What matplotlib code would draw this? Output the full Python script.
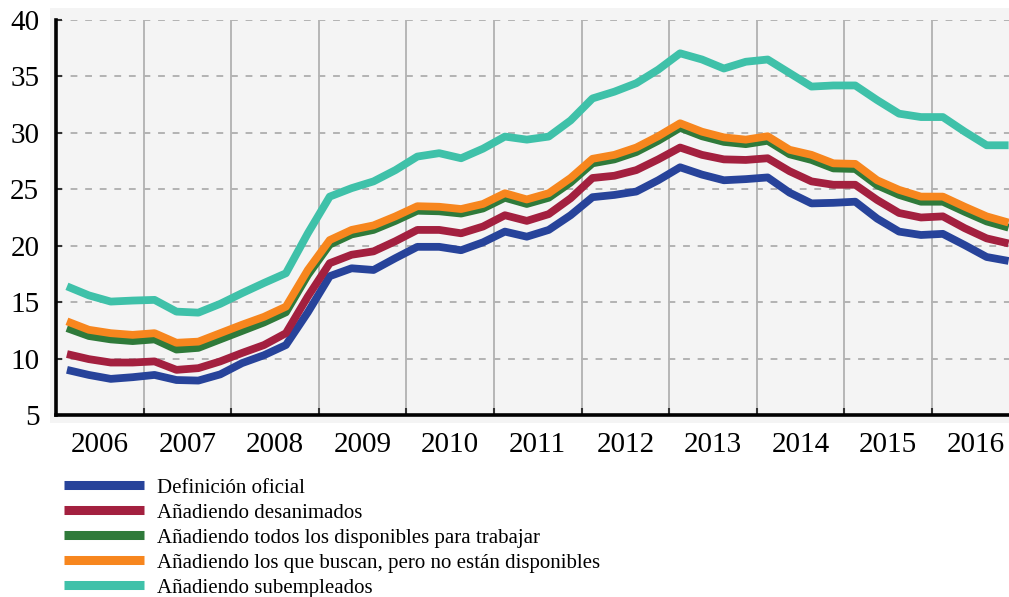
import numpy as np
import matplotlib
matplotlib.use("Agg")
import matplotlib.pyplot as plt
from matplotlib.lines import Line2D
from matplotlib.patches import Rectangle

# ---------------- data ----------------
years = list(range(2006, 2017))
quarters_per_year = 4
year_labels = [str(y) for y in years]
y_ticks = [5, 10, 15, 20, 25, 30, 35, 40]

# quarterly values 2006Q1 .. 2016Q4 (%)
oficial = [9.0, 8.55, 8.2, 8.35,
           8.55, 8.1, 8.05, 8.6,
           9.6, 10.3, 11.2, 14.1,
           17.3, 18.0, 17.85, 18.9,
           19.9, 19.9, 19.6, 20.3,
           21.25, 20.8, 21.4, 22.7,
           24.3, 24.5, 24.8, 25.8,
           26.95, 26.3, 25.8, 25.9,
           26.05, 24.7, 23.75, 23.8,
           23.9, 22.4, 21.25, 20.95,
           21.05, 20.05, 19.0, 18.65]

desanimados = [10.4, 9.95, 9.65, 9.65,
               9.75, 9.0, 9.15, 9.75,
               10.5, 11.2, 12.25, 15.5,
               18.45, 19.2, 19.5, 20.4,
               21.4, 21.4, 21.1, 21.7,
               22.7, 22.2, 22.8, 24.2,
               26.0, 26.2, 26.7, 27.65,
               28.7, 28.05, 27.65, 27.6,
               27.75, 26.6, 25.7, 25.4,
               25.4, 24.05, 22.9, 22.5,
               22.6, 21.55, 20.65, 20.2]

disponibles = [12.7, 12.0, 11.7, 11.55,
               11.7, 10.8, 10.95, 11.7,
               12.45, 13.2, 14.1, 17.4,
               20.1, 21.0, 21.4, 22.2,
               23.1, 23.05, 22.85, 23.3,
               24.25, 23.7, 24.25, 25.6,
               27.3, 27.65, 28.3, 29.3,
               30.45, 29.7, 29.2, 29.0,
               29.3, 28.1, 27.6, 26.85,
               26.8, 25.35, 24.5, 23.9,
               23.9, 23.0, 22.15, 21.6]

buscan = [13.3, 12.55, 12.25, 12.1,
          12.25, 11.4, 11.5, 12.25,
          13.0, 13.7, 14.6, 17.85,
          20.5, 21.4, 21.8, 22.6,
          23.5, 23.45, 23.25, 23.7,
          24.65, 24.1, 24.65, 26.0,
          27.7, 28.05, 28.7, 29.7,
          30.85, 30.1, 29.6, 29.4,
          29.7, 28.5, 28.05, 27.3,
          27.25, 25.8, 24.95, 24.35,
          24.35, 23.45, 22.6, 22.05]

subempleados = [16.4, 15.6, 15.05, 15.14,
                15.2, 14.16, 14.07, 14.85,
                15.8, 16.7, 17.56, 21.1,
                24.35, 25.1, 25.7, 26.7,
                27.9, 28.2, 27.75, 28.6,
                29.67, 29.4, 29.67, 31.1,
                33.05, 33.65, 34.4, 35.6,
                37.05, 36.5, 35.7, 36.3,
                36.5, 35.3, 34.1, 34.2,
                34.2, 32.9, 31.7, 31.4,
                31.4, 30.1, 28.9, 28.9]

series_labels = ["Definición oficial",
                 "Añadiendo desanimados",
                 "Añadiendo todos los disponibles para trabajar",
                 "Añadiendo los que buscan, pero no están disponibles",
                 "Añadiendo subempleados"]
colors = ["#27439a", "#a3203f", "#2f7a3a", "#f7861e", "#3fc1a9"]

# ---------------- figure ----------------
plt.rcParams['font.family'] = ['Liberation Serif', 'DejaVu Serif']

W, H = 1009, 597
fig = plt.figure(figsize=(W / 100, H / 100), dpi=100)
fig.patch.set_facecolor('white')
bg = Rectangle((50 / W, 1 - 423 / H), (W - 50) / W, (423 - 8) / H,
               transform=fig.transFigure, facecolor='#f4f4f4',
               edgecolor='none', zorder=-5)
fig.patches.append(bg)

ax = fig.add_axes([56 / W, 1 - 415 / H, (W - 56) / W, (415 - 20) / H])
ax.set_zorder(1)
ax.set_facecolor('#f4f4f4')

all_series = [oficial, desanimados, disponibles, buscan, subempleados]
n = len(oficial)
x = years[0] + (np.arange(n) + 0.5) / quarters_per_year

for vals, col in zip(all_series, colors):
    ax.plot(x, vals, color=col, lw=5.6, solid_capstyle='butt',
            solid_joinstyle='round', zorder=3)

ax.set_xlim(years[0], years[-1] + 0.88)
ax.set_ylim(y_ticks[0], y_ticks[-1])

ax.set_xticks(years[1:])
ax.set_xticklabels([])
ax.set_xticks([y + 0.5 for y in years], minor=True)
ax.set_xticklabels(year_labels, minor=True)
ax.set_yticks(y_ticks)
ax.set_yticklabels([str(v) for v in y_ticks])

ax.tick_params(axis='x', which='major', direction='in', length=5, width=1.5,
               color='#333333')
ax.tick_params(axis='x', which='minor', length=0, labelsize=21, pad=12)
ax.tick_params(axis='y', which='major', direction='in', length=4, width=1.5,
               color='#333333', labelsize=21, pad=12)

ax.set_axisbelow(True)
ax.grid(axis='x', which='major', color='#ababab', lw=1.2, linestyle='-')
ax.grid(axis='y', which='major', color='#b3b3b3', lw=1.4,
        linestyle=(0, (3.5, 4)))

for s in ['top', 'right']:
    ax.spines[s].set_visible(False)
for s in ['left', 'bottom']:
    ax.spines[s].set_color('black')
    ax.spines[s].set_linewidth(2.6)

handles = [Line2D([], [], color=c, lw=6.5, solid_capstyle='butt')
           for c in colors]
fig.legend(handles, series_labels, loc='upper left',
           bbox_to_anchor=(64 / W, 1 - 478 / H), frameon=False,
           fontsize=15, handlelength=3.85, handletextpad=0.6,
           labelspacing=0.26, borderpad=0, borderaxespad=0)

fig.savefig('out.png', dpi=100)
